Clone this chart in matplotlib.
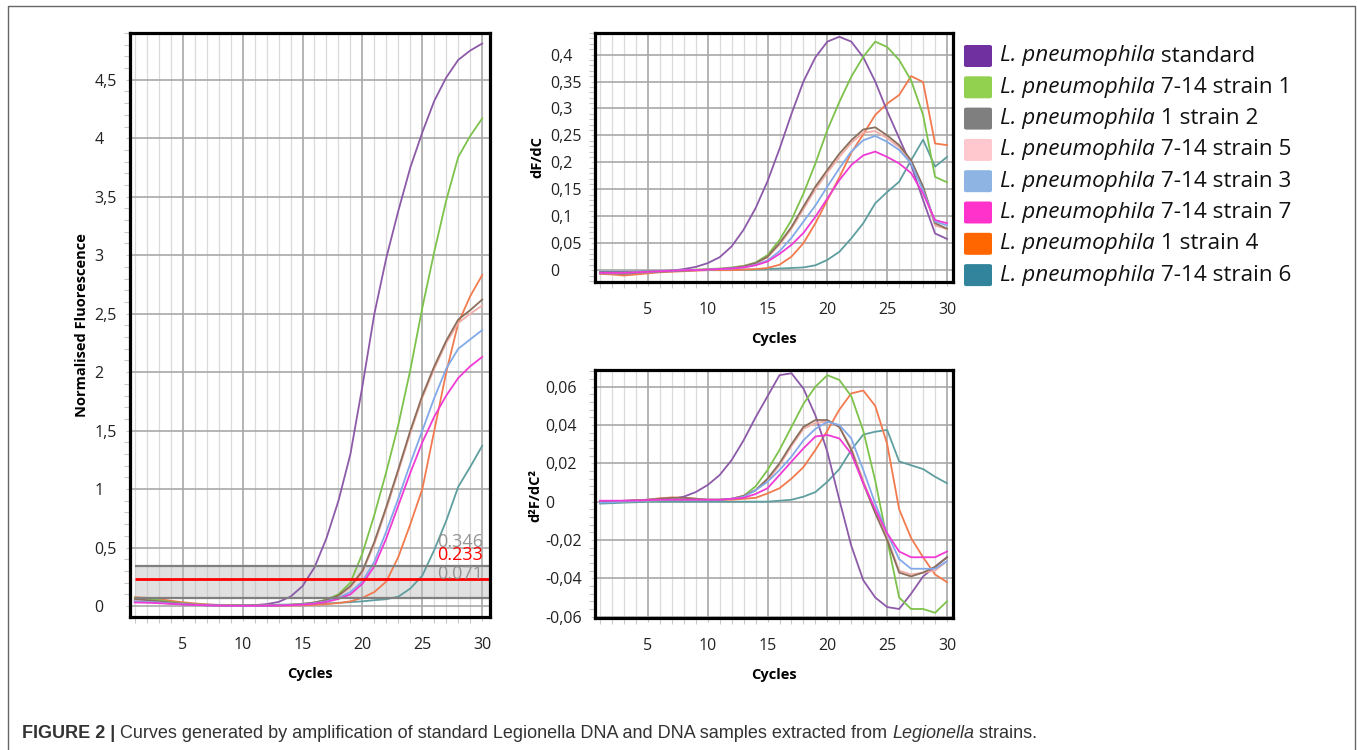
import matplotlib
matplotlib.use("Agg")
import matplotlib.pyplot as plt
import numpy as np
from matplotlib.ticker import FixedLocator, FuncFormatter, MultipleLocator
from matplotlib.patches import FancyBboxPatch
from matplotlib.lines import Line2D

plt.rcParams['font.family'] = ['Open Sans', 'DejaVu Sans']

# ---------------- data ----------------
cycles = list(range(1, 31))

series_names = ["standard", "7-14 strain 1", "1 strain 2", "7-14 strain 5",
                "7-14 strain 3", "7-14 strain 7", "1 strain 4", "7-14 strain 6"]
legend_colors = ["#7030A0", "#92D050", "#7F7F7F", "#FFC7CE",
                 "#8DB4E2", "#FF33CC", "#FF6600", "#31849B"]
line_colors = ["#8C5AA8", "#7DC24B", "#8B6F5D", "#F2ADA6",
               "#82A9E8", "#F03AD4", "#F27A4E", "#5F9EA0"]

# Normalised fluorescence
fl_standard = [0.04, 0.035, 0.03, 0.022, 0.015, 0.01, 0.006, 0.004, 0.003, 0.004, 0.008, 0.016, 0.035, 0.08, 0.17,
               0.33, 0.58, 0.9, 1.3, 1.88, 2.5, 2.98, 3.38, 3.75, 4.05, 4.32, 4.52, 4.67, 4.75, 4.81]
fl_s1 = [0.07, 0.06, 0.05, 0.035, 0.025, 0.015, 0.01, 0.006, 0.004, 0.003, 0.003, 0.004, 0.006, 0.01, 0.018,
         0.03, 0.055, 0.1, 0.2, 0.45, 0.78, 1.15, 1.55, 2.02, 2.55, 3.03, 3.47, 3.84, 4.02, 4.17]
fl_s2 = [0.06, 0.05, 0.04, 0.03, 0.02, 0.013, 0.008, 0.005, 0.003, 0.003, 0.003, 0.004, 0.006, 0.01, 0.018,
         0.03, 0.05, 0.09, 0.17, 0.3, 0.55, 0.85, 1.17, 1.5, 1.8, 2.05, 2.27, 2.45, 2.53, 2.62]
fl_s5 = [0.05, 0.045, 0.037, 0.028, 0.02, 0.013, 0.008, 0.005, 0.003, 0.003, 0.003, 0.004, 0.006, 0.01, 0.017,
         0.028, 0.048, 0.085, 0.16, 0.29, 0.53, 0.83, 1.15, 1.48, 1.78, 2.03, 2.25, 2.42, 2.5, 2.57]
fl_s3 = [0.04, 0.035, 0.03, 0.022, 0.016, 0.01, 0.006, 0.004, 0.002, 0.002, 0.002, 0.003, 0.005, 0.008, 0.014,
         0.024, 0.04, 0.07, 0.12, 0.21, 0.38, 0.64, 0.92, 1.22, 1.5, 1.78, 2.03, 2.2, 2.28, 2.36]
fl_s7 = [0.03, 0.028, 0.024, 0.018, 0.013, 0.009, 0.006, 0.004, 0.002, 0.002, 0.002, 0.003, 0.004, 0.007, 0.012,
         0.02, 0.035, 0.06, 0.1, 0.19, 0.34, 0.58, 0.86, 1.14, 1.4, 1.62, 1.8, 1.95, 2.05, 2.13]
fl_s4 = [0.075, 0.07, 0.06, 0.045, 0.032, 0.022, 0.014, 0.008, 0.005, 0.003, 0.002, 0.002, 0.003, 0.004, 0.006,
         0.01, 0.016, 0.025, 0.04, 0.07, 0.12, 0.21, 0.42, 0.7, 1.0, 1.5, 2.0, 2.42, 2.65, 2.83]
fl_s6 = [0.04, 0.035, 0.03, 0.025, 0.02, 0.015, 0.012, 0.01, 0.009, 0.009, 0.009, 0.01, 0.011, 0.013, 0.015,
         0.018, 0.022, 0.027, 0.033, 0.04, 0.05, 0.058, 0.08, 0.15, 0.26, 0.48, 0.73, 1.02, 1.19, 1.37]

# First derivative dF/dC
d1_standard = [-0.004, -0.004, -0.004, -0.003, -0.003, -0.002, -0.001, 0.002, 0.006, 0.013, 0.024, 0.044, 0.075,
               0.115, 0.165, 0.225, 0.29, 0.35, 0.395, 0.424, 0.433, 0.424, 0.395, 0.35, 0.295, 0.245, 0.195,
               0.13, 0.068, 0.058]
d1_s1 = [-0.005, -0.005, -0.005, -0.004, -0.003, -0.002, -0.001, 0.0, 0.001, 0.002, 0.003, 0.005, 0.008, 0.014,
         0.028, 0.056, 0.093, 0.142, 0.198, 0.26, 0.312, 0.359, 0.396, 0.424, 0.414, 0.39, 0.352, 0.288, 0.173,
         0.163]
d1_s2 = [-0.006, -0.006, -0.007, -0.005, -0.004, -0.003, -0.002, -0.001, 0.0, 0.001, 0.002, 0.004, 0.007, 0.013,
         0.025, 0.05, 0.08, 0.118, 0.155, 0.186, 0.216, 0.241, 0.261, 0.265, 0.25, 0.232, 0.204, 0.155, 0.087,
         0.077]
d1_s5 = [-0.006, -0.006, -0.007, -0.005, -0.004, -0.003, -0.002, -0.001, 0.0, 0.001, 0.002, 0.004, 0.007, 0.012,
         0.024, 0.047, 0.077, 0.113, 0.15, 0.181, 0.21, 0.236, 0.255, 0.258, 0.245, 0.228, 0.2, 0.152, 0.083,
         0.076]
d1_s3 = [-0.005, -0.005, -0.005, -0.004, -0.003, -0.002, -0.001, 0.0, 0.0, 0.001, 0.002, 0.003, 0.005, 0.01,
         0.018, 0.035, 0.06, 0.09, 0.12, 0.155, 0.189, 0.22, 0.241, 0.249, 0.238, 0.223, 0.198, 0.148, 0.09,
         0.083]
d1_s7 = [-0.005, -0.005, -0.005, -0.004, -0.003, -0.002, -0.001, 0.0, 0.0, 0.001, 0.002, 0.003, 0.005, 0.009,
         0.016, 0.03, 0.047, 0.069, 0.099, 0.133, 0.167, 0.195, 0.213, 0.22, 0.21, 0.198, 0.18, 0.142, 0.093,
         0.087]
d1_s4 = [-0.007, -0.008, -0.01, -0.008, -0.006, -0.004, -0.003, -0.002, -0.001, 0.0, 0.0, 0.0, 0.001, 0.002,
         0.004, 0.01, 0.025, 0.05, 0.087, 0.13, 0.172, 0.218, 0.252, 0.288, 0.309, 0.325, 0.36, 0.349, 0.235,
         0.232]
d1_s6 = [-0.003, -0.003, -0.003, -0.003, -0.002, -0.002, -0.001, -0.001, 0.0, 0.0, 0.0, 0.0, 0.001, 0.001, 0.002,
         0.003, 0.004, 0.005, 0.009, 0.019, 0.034, 0.059, 0.087, 0.124, 0.145, 0.164, 0.204, 0.242, 0.192, 0.21]

# Second derivative d2F/dC2
d2_standard = [0.0, 0.0, 0.0005, 0.0008, 0.001, 0.0012, 0.0015, 0.0026, 0.005, 0.0087, 0.0139, 0.0217, 0.032,
               0.044, 0.055, 0.066, 0.067, 0.059, 0.045, 0.026, 0.001, -0.023, -0.041, -0.05, -0.055, -0.056,
               -0.048, -0.039, -0.034, -0.029]
d2_s1 = [0.0, 0.0, 0.0, 0.0003, 0.0005, 0.0007, 0.001, 0.001, 0.001, 0.001, 0.001, 0.0015, 0.003, 0.008, 0.0165,
         0.027, 0.039, 0.051, 0.06, 0.066, 0.0635, 0.055, 0.037, 0.011, -0.02, -0.05, -0.056, -0.056, -0.058,
         -0.052]
d2_s2 = [0.0, 0.0, 0.0003, 0.0006, 0.001, 0.0015, 0.002, 0.002, 0.0015, 0.001, 0.001, 0.0015, 0.003, 0.006, 0.012,
         0.02, 0.03, 0.039, 0.0426, 0.0426, 0.039, 0.027, 0.0096, -0.006, -0.02, -0.037, -0.039, -0.037, -0.034,
         -0.029]
d2_s5 = [0.0, 0.0, 0.0003, 0.0006, 0.001, 0.0015, 0.002, 0.002, 0.0015, 0.001, 0.001, 0.0015, 0.003, 0.006, 0.011,
         0.019, 0.029, 0.038, 0.041, 0.042, 0.039, 0.028, 0.011, -0.005, -0.019, -0.036, -0.038, -0.037, -0.036,
         -0.031]
d2_s3 = [-0.0005, -0.0003, 0.0, 0.0003, 0.0005, 0.0008, 0.001, 0.001, 0.001, 0.001, 0.001, 0.0015, 0.0025, 0.006,
         0.0104, 0.0165, 0.0235, 0.032, 0.038, 0.0417, 0.04, 0.033, 0.0165, -0.001, -0.0165, -0.03, -0.035,
         -0.035, -0.035, -0.031]
d2_s7 = [0.0005, 0.0005, 0.0005, 0.0006, 0.0008, 0.001, 0.001, 0.001, 0.001, 0.001, 0.001, 0.0015, 0.002, 0.004,
         0.007, 0.0139, 0.0209, 0.0278, 0.034, 0.0348, 0.033, 0.025, 0.0096, -0.004, -0.0165, -0.026, -0.029,
         -0.029, -0.029, -0.026]
d2_s4 = [0.0, 0.0, 0.0003, 0.0006, 0.001, 0.0018, 0.0022, 0.002, 0.0015, 0.001, 0.001, 0.001, 0.0015, 0.002,
         0.0043, 0.007, 0.012, 0.018, 0.027, 0.037, 0.048, 0.0565, 0.058, 0.05, 0.03, -0.004, -0.019, -0.029,
         -0.038, -0.042]
d2_s6 = [-0.001, -0.0008, -0.0005, -0.0003, 0.0, 0.0, 0.0, 0.0, 0.0, 0.0, 0.0, 0.0, 0.0, 0.0, 0.0, 0.0005, 0.001,
         0.0026, 0.005, 0.0104, 0.017, 0.027, 0.035, 0.0365, 0.0374, 0.021, 0.019, 0.017, 0.013, 0.0096]

fluor = [fl_standard, fl_s1, fl_s2, fl_s5, fl_s3, fl_s7, fl_s4, fl_s6]
deriv1 = [d1_standard, d1_s1, d1_s2, d1_s5, d1_s3, d1_s7, d1_s4, d1_s6]
deriv2 = [d2_standard, d2_s1, d2_s2, d2_s5, d2_s3, d2_s7, d2_s4, d2_s6]

thresholds = [0.346, 0.233, 0.071]
threshold_labels = ["0.346", "0.233", "0.071"]

fl_yticks = [0, 0.5, 1, 1.5, 2, 2.5, 3, 3.5, 4, 4.5]
d1_yticks = [0, 0.05, 0.1, 0.15, 0.2, 0.25, 0.3, 0.35, 0.4]
d2_yticks = [-0.06, -0.04, -0.02, 0, 0.02, 0.04, 0.06]
x_major = [5, 10, 15, 20, 25, 30]

caption_parts = [("FIGURE 2 |", "bold", "normal"),
                 (" Curves generated by amplification of standard Legionella DNA and DNA samples extracted from ",
                  "normal", "normal"),
                 ("Legionella", "normal", "italic"),
                 (" strains.", "normal", "normal")]

# ---------------- figure ----------------
W, H = 1357, 750
fig = plt.figure(figsize=(W / 100, H / 100), dpi=100)


def fx(px):
    return px / W


def fy(py):
    return 1 - py / H


def comma_fmt(v, pos=None):
    if abs(v) < 1e-9:
        return "0"
    s = f"{round(v, 4):g}"
    return s.replace(".", ",")


def style_axes(ax, xlim, ylim, yticks, yminor, ylabel_pad):
    ax.set_xlim(*xlim)
    ax.set_ylim(*ylim)
    ax.xaxis.set_major_locator(FixedLocator(x_major))
    ax.xaxis.set_minor_locator(MultipleLocator(1))
    ax.yaxis.set_major_locator(FixedLocator(yticks))
    ax.yaxis.set_minor_locator(MultipleLocator(yminor))
    ax.yaxis.set_major_formatter(FuncFormatter(comma_fmt))
    ax.grid(which='major', color='#A8A8A8', lw=1.2, zorder=0)
    ax.grid(which='minor', axis='x', color='#DADADA', lw=0.9, zorder=0)
    ax.set_axisbelow(True)
    for sp in ax.spines.values():
        sp.set_color('black')
        sp.set_linewidth(2.3)
        sp.set_zorder(10)
    ax.tick_params(which='both', direction='out', color='#C8C8C8', width=0.8)
    ax.tick_params(which='major', length=3, labelsize=11.5, labelcolor='#222222')
    ax.tick_params(which='minor', length=4)
    ax.tick_params(axis='x', which='major', pad=11.5)
    ax.tick_params(axis='y', which='major', pad=ylabel_pad)
    for lab in ax.get_yticklabels():
        lab.set_horizontalalignment('left')


# Left: normalised fluorescence
axL = fig.add_axes([fx(130), fy(617), fx(360), 584 / H])
style_axes(axL, (0.6, 30.65), (-0.094, 4.90), fl_yticks, 0.1, 22.5)
order = [7, 6, 0, 1, 3, 2, 4, 5]
for i in order:
    axL.plot(cycles, fluor[i], color=line_colors[i], lw=1.3, zorder=3)
# threshold band
axL.fill_between([1, 30.65], thresholds[2], thresholds[0], color='#BDBDBD', alpha=0.45, lw=0, zorder=2)
axL.hlines([thresholds[0], thresholds[2]], 1, 30.65, colors='#7F7F7F', lw=1.6, zorder=5)
axL.hlines([thresholds[1]], 1, 30.65, colors='#FF0000', lw=2.0, zorder=6)
for val, lab, col in zip(thresholds, threshold_labels, ['#8A8A8A', '#FF0000', '#8A8A8A']):
    axL.annotate(lab, xy=(30.65, val), xytext=(-5, 17.3), textcoords='offset points',
                 ha='right', va='center', fontsize=13, color=col, zorder=7,
                 alpha=0.9 if col != '#FF0000' else 1.0)
axL.text(0.5, (617 - 674) / 584, "Cycles", transform=axL.transAxes, ha='center', va='center',
         fontsize=10.5, fontweight='bold')
fig.text(fx(82), fy(325), "Normalised Fluorescence", rotation=90, ha='center', va='center',
         fontsize=10.5, fontweight='bold')

# Top right: dF/dC
axT = fig.add_axes([fx(595), fy(282), fx(358), 249 / H])
style_axes(axT, (0.58, 30.5), (-0.022, 0.44), d1_yticks, 0.01, 29.0)
for i in order:
    axT.plot(cycles, deriv1[i], color=line_colors[i], lw=1.3, zorder=3)
axT.text(0.5, (282 - 339) / 249, "Cycles", transform=axT.transAxes, ha='center', va='center',
         fontsize=10.5, fontweight='bold')
fig.text(fx(537), fy(157), "dF/dC", rotation=90, ha='center', va='center',
         fontsize=10.5, fontweight='bold')

# Bottom right: d2F/dC2
axB = fig.add_axes([fx(595), fy(618), fx(358), 248 / H])
style_axes(axB, (0.58, 30.5), (-0.0607, 0.0687), d2_yticks, 0.004, 33.0)
for i in order:
    axB.plot(cycles, deriv2[i], color=line_colors[i], lw=1.3, zorder=3)
axB.text(0.5, (618 - 675) / 248, "Cycles", transform=axB.transAxes, ha='center', va='center',
         fontsize=10.5, fontweight='bold')
fig.text(fx(535), fy(496), "d²F/dC²", rotation=90, ha='center', va='center',
         fontsize=10.5, fontweight='bold')

# ---------------- legend ----------------
renderer = fig.canvas.get_renderer()
leg_font = ['Open Sans', 'DejaVu Sans']
for k, (name, col) in enumerate(zip(series_names, legend_colors)):
    yc = 56 + 31.3 * k
    box = FancyBboxPatch((fx(964), fy(yc + 11)), fx(28), 22 / H,
                         boxstyle="round,pad=0,rounding_size=0.002",
                         transform=fig.transFigure, facecolor=col, edgecolor='none')
    fig.patches.append(box)
    t1 = fig.text(fx(1000), fy(yc), "L. pneumophila", fontsize=16.2, style='italic',
                  family=leg_font, ha='left', va='center', color='#111111')
    w1 = t1.get_window_extent(renderer).width
    fig.text(fx(1000 + w1), fy(yc), " " + name, fontsize=16.2, family=leg_font,
             ha='left', va='center', color='#111111')

# ---------------- caption ----------------
xcur = 22
cap_font = ['Liberation Sans', 'DejaVu Sans']
for txt, wt, st in caption_parts:
    t = fig.text(fx(xcur), fy(733), txt, fontsize=13, fontweight=wt, style=st,
                 family=cap_font, ha='left', va='center', color='#333333')
    xcur += t.get_window_extent(renderer).width

# ---------------- outer frame ----------------
fig.add_artist(Line2D([fx(8), fx(8), fx(1355), fx(1355)], [0, fy(6), fy(6), 0],
                      transform=fig.transFigure, color='#666666', lw=1.0))

fig.savefig("out.png", dpi=100)
